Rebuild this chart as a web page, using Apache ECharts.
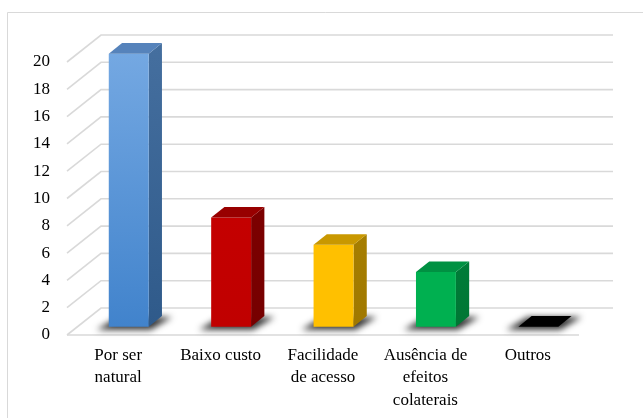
<!DOCTYPE html>
<html>
<head>
<meta charset="utf-8">
<script src="https://cdn.jsdelivr.net/npm/echarts@6/dist/echarts.min.js"></script>
<style>
  html, body { margin: 0; padding: 0; background: #fff; }
  #chart { width: 643px; height: 418px; }
</style>
</head>
<body>
<div id="chart"></div>
<script>
// Reasons given, and how many times each was cited
const categories = ['Por ser\nnatural', 'Baixo custo', 'Facilidade\nde acesso', 'Ausência de\nefeitos\ncolaterais', 'Outros'];
const counts = [20, 8, 6, 4, 0];
const gridValues = [0, 2, 4, 6, 8, 10, 12, 14, 16, 18, 20];

// Face colours for each column: front (gradient top -> bottom), side, top
const faceColors = [
  { front: ['#74a8e2', '#4183cc'], side: ['#456f9f', '#2f5a8a'], top: '#5683bb' },
  { front: ['#c40000', '#c00000'], side: ['#7c0000', '#760000'], top: '#980000' },
  { front: ['#ffc000', '#ffc000'], side: ['#a67e00', '#a07800'], top: '#c99800' },
  { front: ['#00b050', '#00b050'], side: ['#007c38', '#007634'], top: '#009142' },
  { front: ['#000000', '#000000'], side: ['#000000', '#000000'], top: '#000000' }
];

// Oblique projection of the chart depth (pixels for the full floor depth)
const DEPTH_X = 34;
const DEPTH_Y = -27;
// Columns sit between these fractions of the depth
const COL_NEAR = 0.31;
const COL_FAR = 0.70;
const COL_WIDTH = 0.39;

function vGrad(c) {
  return { type: 'linear', x: 0, y: 0, x2: 0, y2: 1,
    colorStops: [{ offset: 0, color: c[0] }, { offset: 1, color: c[1] }] };
}

const chart = echarts.init(document.getElementById('chart'));

chart.setOption({
  animation: false,
  backgroundColor: '#ffffff',
  grid: { left: 67, right: 64, top: 62, bottom: 83 },
  graphic: [{
    type: 'rect',
    shape: { x: 7.5, y: 12.5, width: 700, height: 500 },
    style: { fill: 'none', stroke: '#d9d9d9', lineWidth: 1 },
    silent: true, z: 0
  }],
  xAxis: {
    type: 'category',
    data: categories,
    axisLine: { show: false },
    axisTick: { show: false },
    splitLine: { show: false },
    axisLabel: {
      interval: 0,
      margin: 9,
      color: '#000',
      fontFamily: 'Liberation Serif',
      fontSize: 17,
      lineHeight: 22.5,
      align: 'center'
    }
  },
  yAxis: {
    type: 'value',
    min: 0, max: 20, interval: 2,
    axisLine: { show: false },
    axisTick: { show: false },
    splitLine: { show: false },
    axisLabel: {
      margin: 17,
      color: '#000',
      fontFamily: 'Liberation Serif',
      fontSize: 17,
      padding: [3, 0, 0, 0]
    }
  },
  series: [
    {
      // Floor edge, wall gridlines and their receding diagonals
      type: 'custom',
      z: 1,
      silent: true,
      data: gridValues.map(v => [0, v]),
      renderItem: function (params, api) {
        const cs = params.coordSys;
        const x0 = cs.x, x1 = cs.x + cs.width;
        const yf = api.coord([0, api.value(1)])[1];
        const children = [{
          type: 'polyline',
          shape: { points: [[x0, yf], [x0 + DEPTH_X, yf + DEPTH_Y], [x1 + DEPTH_X, yf + DEPTH_Y]] },
          style: { stroke: '#d9d9d9', lineWidth: 1.6, fill: 'none' }
        }];
        if (api.value(1) === 0) {
          children.push({
            type: 'line',
            shape: { x1: x0, y1: yf, x2: x1, y2: yf },
            style: { stroke: '#d9d9d9', lineWidth: 1.6 }
          });
        }
        return { type: 'group', children: children };
      }
    },
    {
      // 3D columns
      type: 'custom',
      z: 2,
      data: counts.map((v, i) => [i, v]),
      renderItem: function (params, api) {
        const i = api.value(0);
        const base = api.coord([i, 0]);
        const top = api.coord([i, api.value(1)]);
        const bw = api.size([1, 0])[0] * COL_WIDTH;
        const fx = DEPTH_X * COL_NEAR, fy = DEPTH_Y * COL_NEAR;
        const dx = DEPTH_X * (COL_FAR - COL_NEAR), dy = DEPTH_Y * (COL_FAR - COL_NEAR);
        const xl = base[0] - bw / 2 + fx, xr = xl + bw;
        const yb = base[1] + fy, yt = top[1] + fy;
        const col = faceColors[i];
        const SHIFT = 2000;
        const children = [
          // soft floor shadow (shape kept off-canvas, only its shadow is visible)
          {
            type: 'polygon',
            shape: { points: [
              [xl - 12 - SHIFT, yb + 3], [xr + 2 - SHIFT, yb + 3],
              [xr + dx + 10 - SHIFT, yb + dy + 1], [xl + dx - 4 - SHIFT, yb + dy + 1]
            ] },
            style: { fill: '#000', shadowBlur: 6, shadowColor: 'rgba(0,0,0,0.8)', shadowOffsetX: SHIFT }
          }
        ];
        if (yb - yt > 0.5) {
          children.push(
            {
              type: 'polygon',
              shape: { points: [[xr, yt], [xr + dx, yt + dy], [xr + dx, yb + dy], [xr, yb]] },
              style: { fill: vGrad(col.side) }
            },
            {
              type: 'rect',
              shape: { x: xl, y: yt, width: bw, height: yb - yt },
              style: { fill: vGrad(col.front) }
            }
          );
        }
        children.push({
          type: 'polygon',
          shape: { points: [[xl, yt], [xr, yt], [xr + dx, yt + dy], [xl + dx, yt + dy]] },
          style: { fill: col.top }
        });
        return { type: 'group', children: children };
      }
    }
  ]
});
</script>
</body>
</html>
